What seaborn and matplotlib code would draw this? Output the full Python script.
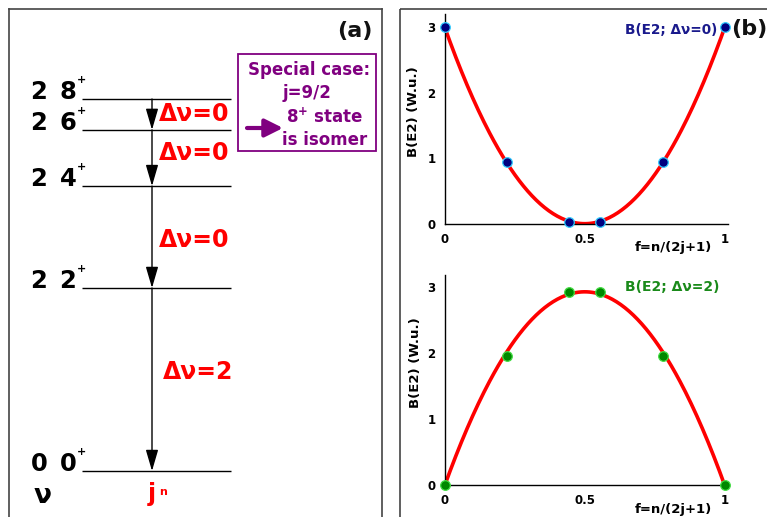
import numpy as np
import pandas as pd
import matplotlib
matplotlib.use("Agg")
import matplotlib.pyplot as plt
from matplotlib.patches import Rectangle
import seaborn as sns

# ---------------- data ----------------
# panel (a): level scheme j^n
spins = ["0", "2", "4", "6", "8"]
seniority = ["0", "2", "2", "2", "2"]
energies = [0.0, 0.492, 0.766, 0.917, 1.0]          # relative level energies
dnu_labels = ["Δν=2", "Δν=0", "Δν=0", "Δν=0"]        # transitions 2->0, 4->2, 6->4, 8->6

# panel (b): B(E2) vs f = n/(2j+1)
f_vals = [0.0, 0.222, 0.444, 0.556, 0.778, 1.0]
be2_dnu0 = [3.0, 0.95, 0.03, 0.03, 0.95, 3.0]
be2_dnu2 = [0.0, 1.96, 2.93, 2.93, 1.96, 0.0]
x_ticks = [0, 0.5, 1]
x_ticklabels = ["0", "0.5", "1"]
y_ticks = [0, 1, 2, 3]

# ---------------- style ----------------
sns.set_theme(style="white")
plt.rcParams["font.family"] = ["DejaVu Sans"]
plt.rcParams["font.weight"] = "bold"
plt.rcParams["mathtext.default"] = "bf"

W, H = 767, 517
fig = plt.figure(figsize=(W / 100, H / 100), dpi=100)
fig.patch.set_facecolor("white")

def frac(x0, y0, x1, y1):
    # pixel box -> figure fraction [left, bottom, width, height]
    return [x0 / W, 1 - y1 / H, (x1 - x0) / W, (y1 - y0) / H]

# ---------------- panel (a) ----------------
ax_a = fig.add_axes(frac(9, 9, 382, 540))
E0_px, px_per_E = 471.0, 372.0
ax_a.set_xlim(9, 382)
ax_a.set_ylim((E0_px - 540) / px_per_E, (E0_px - 9) / px_per_E)
ax_a.set_xticks([]); ax_a.set_yticks([])
for s in ["left", "top", "right"]:
    ax_a.spines[s].set_color("#444444")
    ax_a.spines[s].set_linewidth(1.2)
ax_a.spines["bottom"].set_visible(False)

def dE(px):
    return px / px_per_E

ax_a.hlines(energies, 82, 231, color="black", lw=1.0)
for E, sen, J in zip(energies, seniority, spins):
    ax_a.text(39, E, sen, ha="center", va="baseline", fontsize=17.5, color="black")
    ax_a.text(68, E, J, ha="center", va="baseline", fontsize=17.5, color="black")
    ax_a.text(81, E + dE(19), "+", ha="center", va="center", fontsize=8, color="black")

x_arrow = 152
label_dy = [7.5, -3, 5, 0]
label_x = [198, 194.5, 194.5, 194.5]
for i in range(len(energies) - 1):
    lo, hi = energies[i], energies[i + 1]
    ax_a.annotate("", xy=(x_arrow, lo), xytext=(x_arrow, hi),
                  arrowprops=dict(arrowstyle="-|>,head_length=1.3,head_width=0.38",
                                  mutation_scale=10, color="black", lw=1.0,
                                  shrinkA=0, shrinkB=0))
    ax_a.text(label_x[i], (lo + hi) / 2 + dE(label_dy[i]), dnu_labels[i],
              ha="center", va="center", fontsize=17, color="red")

ax_a.text(43, -dE(25), "ν", ha="center", va="center", fontsize=19, color="black")
ax_a.text(152, -dE(30), "j", ha="center", va="baseline", fontsize=17, color="red")
ax_a.text(163, -dE(21), "n", ha="center", va="center", fontsize=8, color="red")

# ---------------- panel (b) ----------------
def style_b(ax, ytop):
    ax.set_xlim(0, 1.012)
    ax.set_ylim(0, ytop)
    ax.set_xticks(x_ticks)
    ax.set_xticklabels(x_ticklabels)
    ax.set_yticks(y_ticks)
    ax.tick_params(length=0, pad=6.5, labelsize=8.5, colors="black")
    for s in ["top", "right"]:
        ax.spines[s].set_visible(False)
    for s in ["left", "bottom"]:
        ax.spines[s].set_color("black")
        ax.spines[s].set_linewidth(1.0)
    ax.set_xlabel(""); ax.set_ylabel("")
    ax.patch.set_alpha(0)

def curve(ax, yvals):
    coef = np.polyfit(f_vals, yvals, 2)
    xs = np.linspace(0, 1, 200)
    df = pd.DataFrame({"f": xs, "B": np.polyval(coef, xs)})
    sns.lineplot(data=df, x="f", y="B", color="red", lw=2.6, ax=ax)

xl, xr = 444.5, 444.5 + 280.5 * 1.012
ax_t = fig.add_axes(frac(xl, 14, xr, 224))
curve(ax_t, be2_dnu0)
sns.scatterplot(x=f_vals, y=be2_dnu0, color="#000080", edgecolor="#33ccff",
                s=48, linewidth=0.9, zorder=5, clip_on=False, ax=ax_t)
style_b(ax_t, 3 * 210 / 197)
ax_t.text(-0.108, 0.536, "B(E2) (W.u.)", transform=ax_t.transAxes, rotation=90,
          ha="center", va="center", fontsize=9.5, color="black")
ax_t.text(0.806, -0.114, "f=n/(2j+1)", transform=ax_t.transAxes,
          ha="center", va="center", fontsize=9.5, color="black")
ax_t.text(0.96, 0.924, "B(E2; Δν=0)", transform=ax_t.transAxes,
          ha="right", va="center", fontsize=9.8, color="#1a1a8c")

ax_b = fig.add_axes(frac(xl, 275, xr, 485))
curve(ax_b, be2_dnu2)
sns.scatterplot(x=f_vals, y=be2_dnu2, color="#008800", edgecolor="#44dd44",
                s=48, linewidth=0.9, zorder=5, clip_on=False, ax=ax_b)
style_b(ax_b, 3 * 210 / 198)
ax_b.text(-0.103, 0.583, "B(E2) (W.u.)", transform=ax_b.transAxes, rotation=90,
          ha="center", va="center", fontsize=9.5, color="black")
ax_b.text(0.805, -0.119, "f=n/(2j+1)", transform=ax_b.transAxes,
          ha="center", va="center", fontsize=9.5, color="black")
ax_b.text(0.636, 0.943, "B(E2; Δν=2)", transform=ax_b.transAxes,
          ha="left", va="center", fontsize=10, color="#1a8a1a")

# ---------------- overlay decorations ----------------
ov = fig.add_axes([0, 0, 1, 1])
ov.set_xlim(0, W); ov.set_ylim(H, 0)
ov.axis("off")
ov.add_patch(Rectangle((400, 9), 500, 600, fill=False, edgecolor="#444444", lw=1.2, clip_on=False))
ov.text(355, 31, "(a)", ha="center", va="center", fontsize=16, color="#111111")
ov.text(749, 29, "(b)", ha="center", va="center", fontsize=16, color="#111111")

purple = "#800080"
ov.add_patch(Rectangle((238, 54), 138, 97, fill=False, edgecolor=purple, lw=1.3))
ov.text(309, 70, "Special case:", ha="center", va="center", fontsize=12, color=purple)
ov.text(307, 93, "j=9/2", ha="center", va="center", fontsize=12, color=purple)
ov.text(325, 117, r"8$^{+}$ state", ha="center", va="center", fontsize=12, color=purple)
ov.text(325, 140, "is isomer", ha="center", va="center", fontsize=12, color=purple)
ov.annotate("", xy=(283, 128), xytext=(247, 128),
            arrowprops=dict(arrowstyle="-|>,head_length=0.9,head_width=0.45",
                            mutation_scale=12, color=purple, lw=3, shrinkA=0, shrinkB=0))

fig.savefig("out.png", dpi=100, facecolor="white")
